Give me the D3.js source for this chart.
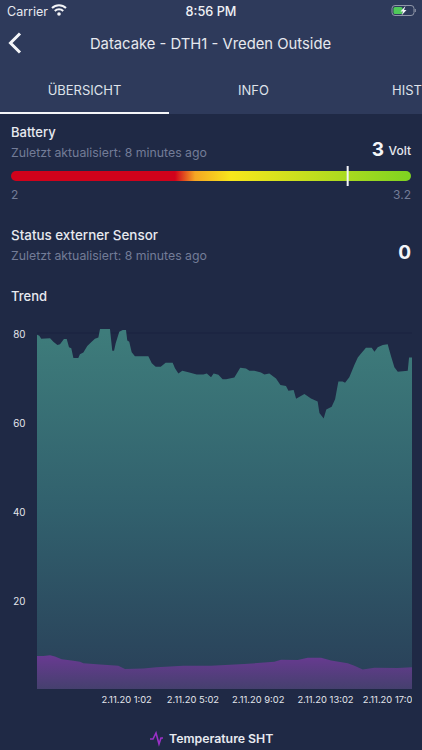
<!DOCTYPE html>
<html>
<head>
<meta charset="utf-8">
<script src="https://cdn.jsdelivr.net/npm/d3@7"></script>
<style>
html, body { margin: 0; padding: 0; background: #1f2945; overflow: hidden; }
text { font-family: Inter, "Noto Sans", sans-serif; }
</style>
</head>
<body>
<script>
const width = 422;
const height = 750;

// hours after 1.11.20 19:35
const tempHours = [0, 0.14, 0.26, 0.8, 1, 1.25, 1.41, 1.65, 1.82, 1.96, 2.1, 2.23, 2.53, 2.63, 2.84, 3.08, 3.35, 3.55, 3.76, 3.86, 4.47, 4.61, 4.72, 4.82, 5.04, 5.25, 5.45, 5.53, 5.65, 5.8, 6, 6.82, 7.03, 7.27, 7.58, 7.88, 8.31, 8.45, 8.66, 8.9, 9.27, 9.78, 10.19, 10.4, 10.66, 10.82, 11.11, 11.37, 11.58, 12.09, 12.45, 12.8, 13.01, 13.31, 13.72, 13.93, 14.23, 14.64, 14.91, 15.25, 15.4, 15.72, 15.87, 16.38, 16.78, 17.19, 17.3, 17.56, 17.72, 18.05, 18.26, 18.46, 18.72, 18.87, 19.13, 19.44, 19.65, 19.85, 20.15, 20.5, 20.67, 20.87, 21.18, 21.48, 21.69, 21.89, 22.1, 22.71, 22.79, 22.97];
const tempValues = [79.6, 79.4, 78.7, 78.8, 78.05, 77.3, 77.5, 78.65, 78.65, 76.8, 76.6, 74.4, 74.4, 75.2, 75.6, 77.1, 78.05, 78.7, 79, 80.9, 80.9, 76, 76, 77.7, 80.3, 80.7, 80.7, 78.3, 78.05, 75.7, 74.8, 74.8, 73.2, 72.4, 72.4, 73.3, 73.3, 72.1, 70.9, 71.5, 71.2, 70.7, 70.7, 70.9, 70.05, 70.9, 70.6, 69.6, 69.6, 70, 72.2, 72, 71.5, 71.5, 71.1, 70.7, 70.9, 69.8, 68.3, 68.1, 67, 67.2, 65.2, 66.3, 65.3, 64.6, 62, 60.8, 62.8, 63.4, 65.1, 69.1, 69.1, 68.8, 70.05, 72.8, 74.5, 75.4, 76.7, 76.7, 75.8, 76.8, 77.3, 77.5, 74.7, 72.3, 71.3, 71.5, 74.5, 74.5];

const lowHours = [0, 0.39, 0.8, 1.1, 1.51, 2.12, 2.63, 2.84, 3.86, 4.98, 5.39, 6.51, 7.33, 8.97, 10.66, 12.7, 14.54, 14.95, 15.97, 16.58, 17.4, 18.01, 19.03, 19.44, 19.95, 20.67, 22.1, 22.97];
const lowValues = [7.4, 7.4, 7.6, 7.3, 6.7, 6.4, 6.1, 5.8, 5.5, 5.2, 4.5, 4.6, 4.9, 5.2, 5.2, 5.6, 6.1, 6.6, 6.5, 7, 7, 6.4, 5.8, 5.2, 4.4, 4.8, 4.7, 4.9];

const yTicks = [20, 40, 60, 80];
const xTickHours = [5.45, 9.45, 13.45, 17.45, 21.45];
const xTickLabels = ['2.11.20 1:02', '2.11.20 5:02', '2.11.20 9:02', '2.11.20 13:02', '2.11.20 17:02'];

const tabs = ['ÜBERSICHT', 'INFO', 'HIST'];
const batteryRange = [2, 3.2];
const batteryValue = 3.01;

const startTime = Date.UTC(2020, 10, 1, 19, 35);
const toDate = h => new Date(startTime + h * 3600000);

let svg = d3.select('body').append('svg')
	.attr('width', width)
	.attr('height', height)
	.style('display', 'block');

let defs = svg.append('defs');

function gradient(id, x1, y1, x2, y2, stops) {
	let g = defs.append('linearGradient')
		.attr('id', id)
		.attr('gradientUnits', 'userSpaceOnUse')
		.attr('x1', x1).attr('y1', y1).attr('x2', x2).attr('y2', y2);
	for (let s of stops) {
		g.append('stop').attr('offset', s[0]).attr('stop-color', s[1]);
	}
}

function label(x, y, str, size, weight, color, anchor) {
	return svg.append('text')
		.attr('x', x)
		.attr('y', y)
		.attr('font-size', size)
		.attr('font-weight', weight)
		.attr('fill', color)
		.attr('text-anchor', anchor || 'start')
		.text(str);
}

// background + header
svg.append('rect').attr('width', width).attr('height', height).attr('fill', '#1f2945');
svg.append('rect').attr('width', width).attr('height', 114).attr('fill', '#2e3a5b');

// status bar
label(7, 16, 'Carrier', 12.5, 400, '#e8eaf0');
let wifi = svg.append('g').attr('transform', 'translate(59,11)').attr('fill', 'none').attr('stroke', '#f4f5f8').attr('stroke-width', 2);
wifi.append('path').attr('d', 'M-7,-3 A10,10 0 0 1 7,-3');
wifi.append('path').attr('d', 'M-4.2,0 A6,6 0 0 1 4.2,0');
wifi.append('circle').attr('cx', 0).attr('cy', 3).attr('r', 1.8).attr('fill', '#f4f5f8').attr('stroke', 'none');
label(211, 16, '8:56 PM', 12.7, 500, '#f0f1f5', 'middle');
svg.append('rect').attr('x', 392).attr('y', 5.5).attr('width', 22).attr('height', 10).attr('rx', 3).attr('fill', 'none').attr('stroke', '#8f96a8');
svg.append('rect').attr('x', 414.8).attr('y', 9).attr('width', 1).attr('height', 3).attr('fill', '#8f96a8');
svg.append('rect').attr('x', 393.5).attr('y', 7).attr('width', 9).attr('height', 7).attr('rx', 1.5).attr('fill', '#4fc95a');
svg.append('path').attr('d', 'M405.5,6 L400.5,11.5 L403,11.5 L401.5,15.5 L406.5,10 L404,10 Z').attr('fill', '#f4f5f8');

// nav
svg.append('path').attr('d', 'M20,33.5 L10.5,43 L20,52.5').attr('fill', 'none').attr('stroke', '#f4f5f8').attr('stroke-width', 3);
label(210.5, 49, 'Datacake - DTH1 - Vreden Outside', 14.8, 400, '#e6e8ee', 'middle');

// tabs
let tabX = d3.scaleOrdinal().domain(tabs).range([84.5, 253.5, 392]);
label(tabX(tabs[0]), 95, tabs[0], 13, 400, '#dfe2ea', 'middle');
label(tabX(tabs[1]), 95, tabs[1], 13, 400, '#dfe2ea', 'middle');
label(tabX(tabs[2]), 95, tabs[2], 13, 400, '#dfe2ea');
svg.append('rect').attr('x', 0).attr('y', 112).attr('width', 169).attr('height', 2).attr('fill', '#f4f5f8');

// battery
label(11, 137, 'Battery', 13, 500, '#e8eaf0');
label(11, 157, 'Zuletzt aktualisiert: 8 minutes ago', 12.3, 400, '#737c97');
label(411, 155, 'Volt', 12, 500, '#e8eaf0', 'end');
label(384, 156, '3', 19, 700, '#f4f5f8', 'end');

let gauge = d3.scaleLinear().domain(batteryRange).range([11, 411]);
gradient('gaugeFill', 11, 0, 411, 0, [[0, '#d0021b'], [0.41, '#d0021b'], [0.46, '#f5a623'], [0.55, '#f8e71c'], [1, '#7ed321']]);
svg.append('rect').attr('x', gauge.range()[0]).attr('y', 171).attr('width', 400).attr('height', 10).attr('rx', 5).attr('fill', 'url(#gaugeFill)');
svg.append('rect').attr('x', gauge(batteryValue) - 1).attr('y', 166).attr('width', 2).attr('height', 20).attr('fill', '#f4f5f8');
label(11, 199, batteryRange[0], 12, 400, '#737c97');
label(411, 199, batteryRange[1], 12, 400, '#737c97', 'end');

// status
label(11, 240, 'Status externer Sensor', 13.4, 500, '#e8eaf0');
label(11, 260, 'Zuletzt aktualisiert: 8 minutes ago', 12.3, 400, '#737c97');
label(411, 259, '0', 19, 700, '#f4f5f8', 'end');
label(11, 301, 'Trend', 13, 500, '#e8eaf0');

// chart
let x = d3.scaleUtc().domain([toDate(0), toDate(22.97)]).range([37, 412]);
let y = d3.scaleLinear().domain([0, 80]).range([689, 333]);

gradient('tempFill', 0, 333, 0, 689, [[0, '#3e7c7b'], [0.5, '#31606d'], [1, '#293f58']]);
gradient('lowFill', 0, 655, 0, 689, [[0, '#693a92'], [1, '#45406e']]);

svg.append('line').attr('x1', 37).attr('x2', 412).attr('y1', y(80)).attr('y2', y(80)).attr('stroke', '#1a2340');

let area = d3.area()
	.x(d => x(d.t))
	.y0(y(0))
	.y1(d => y(d.v));

let tempData = tempHours.map((h, i) => ({ t: toDate(h), v: tempValues[i] }));
let lowData = lowHours.map((h, i) => ({ t: toDate(h), v: lowValues[i] }));

svg.append('path').datum(tempData).attr('d', area).attr('fill', 'url(#tempFill)');
svg.append('path').datum(lowData).attr('d', area).attr('fill', 'url(#lowFill)');

let yAxis = svg.append('g')
	.attr('transform', 'translate(37,1)')
	.call(d3.axisLeft(y).tickValues(yTicks).tickSize(0).tickPadding(11.5));
yAxis.select('.domain').remove();
yAxis.selectAll('text').attr('font-size', 9.8).attr('font-weight', 400).attr('fill', '#e4e6ec').style('font-family', 'Inter');

defs.append('clipPath').attr('id', 'axisClip')
	.append('rect').attr('x', 0).attr('y', 680).attr('width', 412).attr('height', 40);

let xAxis = svg.append('g')
	.attr('clip-path', 'url(#axisClip)')
	.append('g')
	.attr('transform', 'translate(0,689)')
	.call(d3.axisBottom(x)
		.tickValues(xTickHours.map(toDate))
		.tickFormat((d, i) => xTickLabels[i])
		.tickSize(0)
		.tickPadding(7));
xAxis.select('.domain').remove();
// labels in the app start a fixed distance left of their tick
xAxis.selectAll('text').attr('text-anchor', 'start').attr('dx', -25).attr('font-size', 9.4).attr('font-weight', 400).attr('fill', '#e4e6ec').style('font-family', 'Inter');

// legend
svg.append('path').attr('d', 'M150,739 L153,739 L156,733 L159,744 L161,738 L163,738')
	.attr('fill', 'none').attr('stroke', '#9b30c8').attr('stroke-width', 1.6);
label(169, 743, 'Temperature SHT', 12.3, 600, '#e8eaf0');
</script>
</body>
</html>
